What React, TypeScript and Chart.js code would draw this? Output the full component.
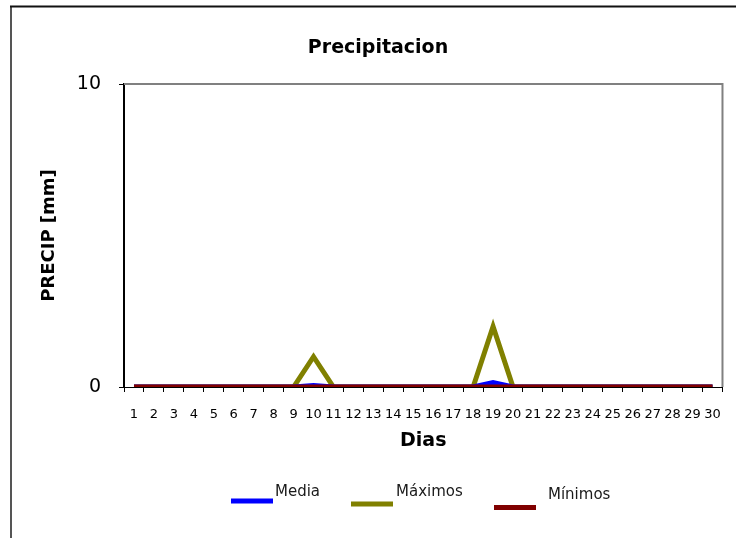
import React, { useEffect, useRef } from "react";
import { Chart, registerables } from "chart.js";

Chart.register(...registerables);

const titleText = "Precipitacion";
const yTitleText = "PRECIP [mm]";
const xTitleText = "Dias";

const days = [
  "1", "2", "3", "4", "5", "6", "7", "8", "9", "10",
  "11", "12", "13", "14", "15", "16", "17", "18", "19", "20",
  "21", "22", "23", "24", "25", "26", "27", "28", "29", "30",
];

const media = [
  0, 0, 0, 0, 0, 0, 0, 0, 0, 0.05,
  0, 0, 0, 0, 0, 0, 0, 0, 0.15, 0,
  0, 0, 0, 0, 0, 0, 0, 0, 0, 0,
];

const maximos = [
  0, 0, 0, 0, 0, 0, 0, 0, 0, 1,
  0, 0, 0, 0, 0, 0, 0, 0, 2, 0,
  0, 0, 0, 0, 0, 0, 0, 0, 0, 0,
];

const minimos = [
  0, 0, 0, 0, 0, 0, 0, 0, 0, 0,
  0, 0, 0, 0, 0, 0, 0, 0, 0, 0,
  0, 0, 0, 0, 0, 0, 0, 0, 0, 0,
];

const yTicks = [0, 10];

const seriesNames = ["Media", "Máximos", "Mínimos"];
const seriesColors = ["#0000FF", "#808000", "#800000"];

const FONT = "'DejaVu Sans', 'Liberation Sans', sans-serif";

const decorPlugin = {
  id: "decor",
  beforeDatasetsDraw(chart: any) {
    const { ctx, chartArea } = chart;
    ctx.save();
    ctx.strokeStyle = "#808080";
    ctx.lineWidth = 2;
    ctx.beginPath();
    ctx.moveTo(chartArea.left, chartArea.top);
    ctx.lineTo(chartArea.right, chartArea.top);
    ctx.lineTo(chartArea.right, chartArea.bottom);
    ctx.stroke();
    ctx.restore();
  },
  afterDraw(chart: any) {
    const { ctx } = chart;
    ctx.save();
    // outer frame (extends beyond the visible area at right and bottom)
    ctx.lineWidth = 2;
    ctx.strokeStyle = "#555555";
    ctx.beginPath();
    ctx.moveTo(11, 6);
    ctx.lineTo(11, 540);
    ctx.stroke();
    ctx.strokeStyle = "#111111";
    ctx.beginPath();
    ctx.moveTo(10, 6.5);
    ctx.lineTo(740, 6.5);
    ctx.stroke();

    // title
    ctx.fillStyle = "#000";
    ctx.font = `bold 19px ${FONT}`;
    ctx.textAlign = "center";
    ctx.textBaseline = "middle";
    ctx.fillText(titleText, 378, 48);

    // legend
    const slots = [
      { lx: 231, ly: 501, tx: 275, ty: 496 },
      { lx: 351, ly: 504, tx: 396, ty: 496 },
      { lx: 494, ly: 507.5, tx: 548, ty: 499 },
    ];
    ctx.font = `15px ${FONT}`;
    ctx.textAlign = "left";
    ctx.textBaseline = "alphabetic";
    chart.data.datasets.forEach((ds: any, i: number) => {
      const s = slots[i];
      ctx.strokeStyle = ds.borderColor;
      ctx.lineWidth = 5;
      ctx.beginPath();
      ctx.moveTo(s.lx, s.ly);
      ctx.lineTo(s.lx + 42, s.ly);
      ctx.stroke();
      ctx.fillStyle = "#1a1a1a";
      ctx.fillText(ds.label, s.tx, s.ty);
    });
    ctx.restore();
  },
};

export default function App() {
  const ref = useRef<HTMLCanvasElement | null>(null);

  useEffect(() => {
    if (!ref.current) return;
    Chart.defaults.font.family = FONT;
    Chart.defaults.color = "#000";
    const chart = new Chart(ref.current, {
      type: "line",
      data: {
        labels: days,
        datasets: [
          {
            label: seriesNames[0],
            data: media,
            borderColor: seriesColors[0],
            backgroundColor: seriesColors[0],
            borderWidth: 5,
            pointRadius: 0,
            tension: 0,
            order: 1,
          },
          {
            label: seriesNames[1],
            data: maximos,
            borderColor: seriesColors[1],
            backgroundColor: seriesColors[1],
            borderWidth: 5,
            pointRadius: 0,
            tension: 0,
            order: 2,
          },
          {
            label: seriesNames[2],
            data: minimos,
            borderColor: seriesColors[2],
            backgroundColor: seriesColors[2],
            borderWidth: 5,
            pointRadius: 0,
            tension: 0,
            order: 0,
          },
        ],
      },
      options: {
        responsive: false,
        animation: false,
        layout: { padding: { top: 84, right: 13, left: 0, bottom: 0 } },
        plugins: {
          legend: { display: false },
          tooltip: { enabled: false },
          title: { display: false },
        },
        scales: {
          x: {
            offset: true,
            grid: {
              offset: true,
              drawOnChartArea: false,
              drawTicks: true,
              tickLength: 5,
              color: "#000",
            },
            border: { color: "#000", width: 1 },
            ticks: {
              autoSkip: false,
              maxRotation: 0,
              minRotation: 0,
              padding: 15,
              font: { size: 13 },
              color: "#000",
            },
            title: {
              display: true,
              text: xTitleText,
              font: { size: 19, weight: "bold" },
              color: "#000",
              padding: { top: 0, bottom: 86 },
            },
            afterFit(scale: any) {
              scale.height = 151;
            },
          },
          y: {
            min: 0,
            max: 10,
            grid: {
              drawOnChartArea: false,
              drawTicks: true,
              tickLength: 5,
              color: "#000",
            },
            border: { color: "#000", width: 2 },
            ticks: {
              padding: 18,
              font: { size: 19 },
              color: "#000",
            },
            afterBuildTicks(scale: any) {
              scale.ticks = yTicks.map((v) => ({ value: v }));
            },
            title: {
              display: true,
              text: yTitleText,
              font: { size: 18, weight: "bold" },
              color: "#000",
              padding: { top: 39, bottom: 0 },
            },
            afterFit(scale: any) {
              scale.width = 124;
            },
          },
        },
      },
      plugins: [decorPlugin],
    });
    return () => chart.destroy();
  }, []);

  return (
    <div style={{ position: "absolute", left: 0, top: 0, width: 736, height: 538, background: "#fff" }}>
      <canvas ref={ref} width={736} height={538} />
    </div>
  );
}
